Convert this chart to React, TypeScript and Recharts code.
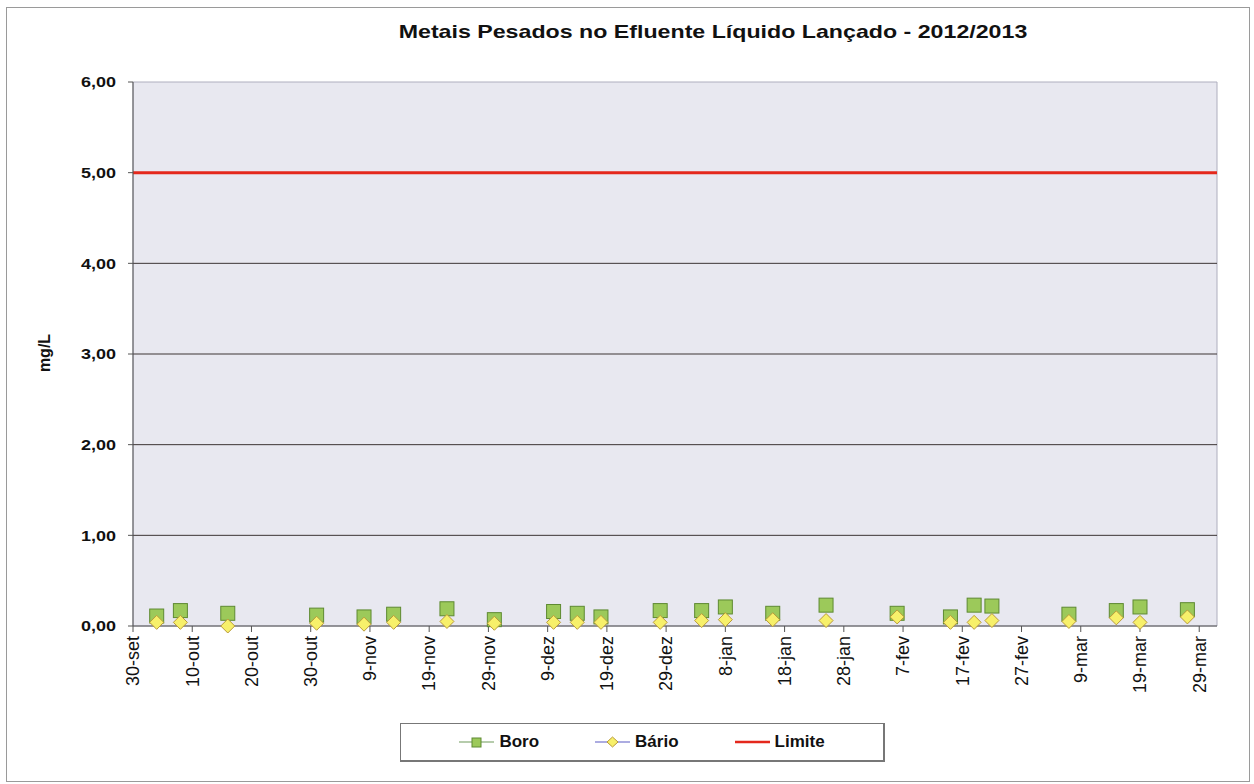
import React from "react";
import {
  ScatterChart,
  Scatter,
  XAxis,
  YAxis,
  ReferenceArea,
  ReferenceLine,
  Legend,
} from "recharts";

// Datas de coleta (amostras de efluente) e resultados em mg/L
const datasColeta = [
  "2012-10-04", "2012-10-08", "2012-10-16", "2012-10-31", "2012-11-08", "2012-11-13",
  "2012-11-22", "2012-11-30", "2012-12-10", "2012-12-14", "2012-12-18", "2012-12-28",
  "2013-01-04", "2013-01-08", "2013-01-16", "2013-01-25", "2013-02-06", "2013-02-15",
  "2013-02-19", "2013-02-22", "2013-03-07", "2013-03-15", "2013-03-19", "2013-03-27",
];
const boro = [
  0.11, 0.17, 0.14, 0.12, 0.1, 0.13, 0.19, 0.07, 0.16, 0.14, 0.1, 0.17,
  0.17, 0.21, 0.14, 0.23, 0.14, 0.1, 0.23, 0.22, 0.13, 0.17, 0.21, 0.18,
];
const bario = [
  0.04, 0.04, 0.0, 0.03, 0.02, 0.04, 0.05, 0.03, 0.04, 0.04, 0.04, 0.04,
  0.06, 0.07, 0.07, 0.06, 0.1, 0.04, 0.04, 0.06, 0.05, 0.09, 0.04, 0.1,
];
const LIMITE = 5;

const rotulosX = [
  "30-set", "10-out", "20-out", "30-out", "9-nov", "19-nov", "29-nov", "9-dez", "19-dez",
  "29-dez", "8-jan", "18-jan", "28-jan", "7-fev", "17-fev", "27-fev", "9-mar", "19-mar", "29-mar",
];
const valoresY = [0, 1, 2, 3, 4, 5, 6];
const linhasGrade = [1, 2, 3, 4];

// eixo X em dias contados a partir de 30/09/2012
const INICIO = Date.UTC(2012, 8, 30);
const paraDia = (d: string) => Math.round((Date.parse(d) - INICIO) / 86400000);
const ticksX = rotulosX.map((_, i) => i * 10);

const dadosBoro = datasColeta.map((d, i) => ({ dia: paraDia(d), valor: boro[i] }));
const dadosBario = datasColeta.map((d, i) => ({ dia: paraDia(d), valor: bario[i] }));

const FONTE = "Arial, 'Liberation Sans', Helvetica, sans-serif";
const VERDE = "#9cc95a";
const VERDE_BORDA = "#5e8a32";
const AMARELO = "#f7f06a";
const AMARELO_BORDA = "#b99a3a";
const VERMELHO = "#e4281c";

const Quadrado = (props: any) => {
  const { cx, cy } = props;
  return (
    <rect x={cx - 7} y={cy - 7} width={14} height={14} fill={VERDE} stroke={VERDE_BORDA} strokeWidth={1} />
  );
};

const Losango = (props: any) => {
  const { cx, cy } = props;
  return (
    <polygon
      points={`${cx},${cy - 7} ${cx + 7},${cy} ${cx},${cy + 7} ${cx - 7},${cy}`}
      fill={AMARELO}
      stroke={AMARELO_BORDA}
      strokeWidth={1}
    />
  );
};

const TickX = (props: any) => {
  const { x, y, payload } = props;
  const rotulo = rotulosX[Math.round(payload.value / 10)] ?? "";
  return (
    <g transform={`translate(${x},${y})`}>
      <text
        transform="rotate(-90)"
        x={-2}
        y={0}
        dy="0.35em"
        textAnchor="end"
        fontSize={18}
        fontFamily={FONTE}
        fill="#111"
      >
        {rotulo}
      </text>
    </g>
  );
};

const TickY = (props: any) => {
  const { x, y, payload } = props;
  return (
    <g transform={`translate(${x},${y}) scale(1.2,1)`}>
      <text x={0} y={0} dy="0.36em" textAnchor="end" fontSize={15} fontWeight="bold" fontFamily={FONTE} fill="#111">
        {payload.value.toFixed(2).replace(".", ",")}
      </text>
    </g>
  );
};

const itensLegenda = [
  { nome: "Boro", cor: "#6f9a5a", marcador: "quadrado" },
  { nome: "Bário", cor: "#5b5bc4", marcador: "losango" },
  { nome: "Limite", cor: VERMELHO, marcador: "nenhum" },
];

const LegendaBox = () => (
  <div
    style={{
      width: 485,
      height: 39,
      boxSizing: "border-box",
      border: "1px solid #777",
      borderRightWidth: 2,
      borderBottomWidth: 2,
      background: "#fff",
      display: "flex",
      alignItems: "center",
      justifyContent: "center",
      gap: 56,
      fontFamily: FONTE,
      fontSize: 17,
      fontWeight: "bold",
      color: "#111",
    }}
  >
    {itensLegenda.map((item) => (
      <div key={item.nome} style={{ display: "flex", alignItems: "center" }}>
        <svg width={35} height={14} style={{ marginRight: 5 }}>
          <line x1={0} y1={7} x2={35} y2={7} stroke={item.cor} strokeWidth={item.marcador === "nenhum" ? 2.5 : 1.2} />
          {item.marcador === "quadrado" && (
            <rect x={13} y={3} width={9} height={9} fill={VERDE} stroke={VERDE_BORDA} />
          )}
          {item.marcador === "losango" && (
            <polygon points="17.5,2 23,7 17.5,12 12,7" fill={AMARELO} stroke={AMARELO_BORDA} />
          )}
        </svg>
        <span>{item.nome}</span>
      </div>
    ))}
  </div>
);

export default function App() {
  return (
    <div style={{ position: "absolute", left: 0, top: 0, width: 1254, height: 784, background: "#fff" }}>
      <div
        style={{
          position: "absolute",
          left: 6,
          top: 7,
          width: 1244,
          height: 775,
          border: "1px solid #9a9a9a",
          boxSizing: "border-box",
        }}
      />
      <div
        style={{
          position: "absolute",
          left: 713,
          top: 21,
          transform: "translateX(-50%) scaleX(1.22)",
          whiteSpace: "nowrap",
          fontFamily: FONTE,
          fontSize: 19,
          fontWeight: "bold",
          lineHeight: "22px",
          color: "#111",
        }}
      >
        Metais Pesados no Efluente Líquido Lançado - 2012/2013
      </div>
      <div
        style={{
          position: "absolute",
          left: 45,
          top: 353,
          transform: "translate(-50%, -50%) rotate(-90deg)",
          fontFamily: FONTE,
          fontSize: 16,
          fontWeight: "bold",
          color: "#111",
          whiteSpace: "nowrap",
        }}
      >
        mg/L
      </div>
      <div style={{ position: "absolute", left: 0, top: 0 }}>
        <ScatterChart width={1254} height={784} margin={{ top: 82, right: 37, bottom: 78, left: 53 }}>
          <XAxis
            type="number"
            dataKey="dia"
            domain={[0, 183]}
            ticks={ticksX}
            interval={0}
            tick={<TickX />}
            tickSize={6}
            tickMargin={2}
            height={80}
            axisLine={{ stroke: "#555" }}
            tickLine={{ stroke: "#555" }}
            allowDataOverflow
          />
          <YAxis
            type="number"
            dataKey="valor"
            domain={[0, 6]}
            ticks={valoresY}
            interval={0}
            tick={<TickY />}
            tickSize={5}
            tickMargin={12}
            width={80}
            axisLine={{ stroke: "#555" }}
            tickLine={{ stroke: "#555" }}
          />
          <ReferenceArea x1={0} x2={183} y1={0} y2={6} fill="#e8e8f0" fillOpacity={1} stroke="#aeaebe" />
          {linhasGrade.map((v) => (
            <ReferenceLine key={v} y={v} stroke="#3c3434" strokeWidth={1} />
          ))}
          <ReferenceLine y={LIMITE} stroke={VERMELHO} strokeWidth={3} />
          <Scatter name="Boro" data={dadosBoro} shape={<Quadrado />} isAnimationActive={false} />
          <Scatter name="Bário" data={dadosBario} shape={<Losango />} isAnimationActive={false} />
          <Legend
            layout="horizontal"
            verticalAlign="middle"
            align="center"
            content={<LegendaBox />}
            wrapperStyle={{ position: "absolute", left: 400, top: 723, width: 485, height: 39 }}
          />
        </ScatterChart>
      </div>
    </div>
  );
}
